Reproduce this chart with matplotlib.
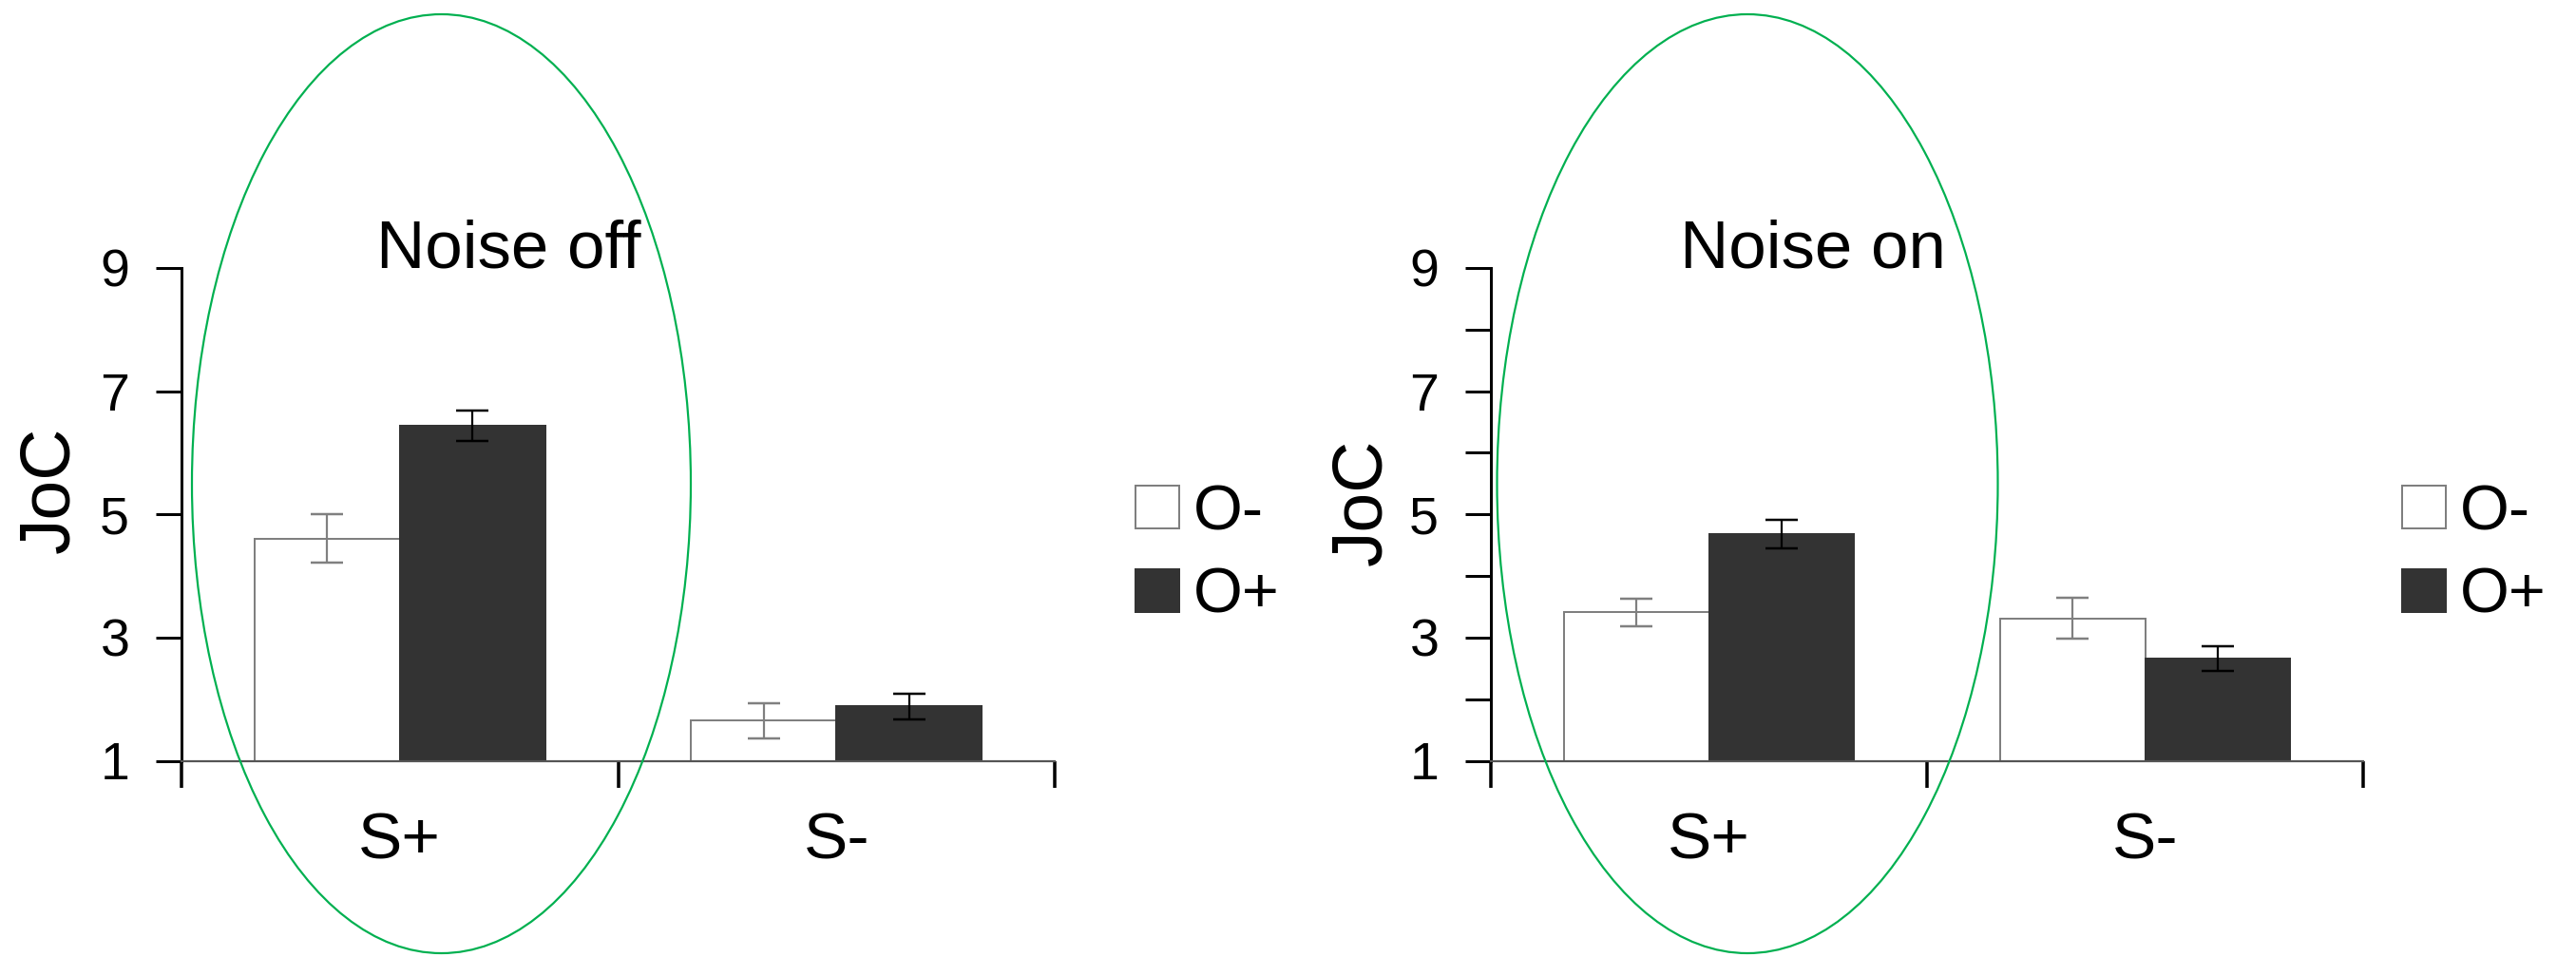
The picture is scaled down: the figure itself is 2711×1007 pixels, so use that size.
import matplotlib
matplotlib.use("Agg")
import matplotlib.pyplot as plt
from matplotlib.patches import Ellipse
import numpy as np

plt.rcParams['font.family'] = ['Liberation Sans', 'DejaVu Sans']

# ---- data ----
categories = ["S+", "S-"]
series_labels = ["O-", "O+"]
panel_titles = ["Noise off", "Noise on"]

off_o_minus = [4.61, 1.65]
off_o_minus_err = [0.40, 0.29]
off_o_plus = [6.44, 1.88]
off_o_plus_err = [0.25, 0.21]

on_o_minus = [3.41, 3.31]
on_o_minus_err = [0.22, 0.33]
on_o_plus = [4.68, 2.66]
on_o_plus_err = [0.23, 0.20]

y_ticks = [1, 3, 5, 7, 9]
y_minor_on = [2, 4, 6, 8]
y_label = "JoC"

# ---- figure ----
DPI = 100
fig = plt.figure(figsize=(27.11, 10.07), dpi=DPI)
W, H = 2711, 1007

def fx(px):
    return px / W

def fy(py):
    return 1 - py / H

ax_bottom = fy(800.5)
ax_height = (800.5 - 282) / H
ax_left = fig.add_axes([fx(191), ax_bottom, 919 / W, ax_height])
ax_right = fig.add_axes([fx(1569), ax_bottom, 918 / W, ax_height])

px = 72 / DPI  # points per pixel
bar_w = 0.3326
white_fc, white_ec = "white", "#7f7f7f"
dark_fc = "#333333"

panels = [
    (ax_left, off_o_minus, off_o_minus_err, off_o_plus, off_o_plus_err, False, 0.249, 1195),
    (ax_right, on_o_minus, on_o_minus_err, on_o_plus, on_o_plus_err, True, 0.239, 2528),
]

for i, (ax, om, ome, op, ope, minor, tx, leg_x) in enumerate(panels):
    x = np.arange(len(categories))
    b1 = ax.bar(x - bar_w / 2, om, width=bar_w, color=white_fc,
                edgecolor=white_ec, linewidth=2 * px, zorder=2)
    b2 = ax.bar(x + bar_w / 2, op, width=bar_w, color=dark_fc,
                edgecolor=dark_fc, linewidth=2 * px, zorder=2)
    ax.errorbar(x - bar_w / 2, om, yerr=ome, fmt="none", ecolor="#808080",
                elinewidth=2.2 * px, capsize=17 * px, capthick=2.5 * px, zorder=3)
    ax.errorbar(x + bar_w / 2, op, yerr=ope, fmt="none", ecolor="black",
                elinewidth=2.2 * px, capsize=17 * px, capthick=2.5 * px, zorder=3)

    ax.set_xlim(-0.5, 1.5)
    ax.set_ylim(1, 9)
    for s in ("top", "right"):
        ax.spines[s].set_visible(False)
    ax.spines["left"].set_linewidth(3 * px)
    ax.spines["left"].set_color("black")
    ax.spines["bottom"].set_linewidth(2.2 * px)
    ax.spines["bottom"].set_color("#555555")

    ax.set_yticks(y_ticks)
    ax.set_yticklabels([str(t) for t in y_ticks])
    if minor:
        ax.set_yticks(y_minor_on, minor=True)
    ax.tick_params(axis="y", which="both", direction="out", length=27 * px,
                   width=3 * px, color="black", pad=20, labelsize=40)

    ax.set_xticks([-0.5, 0.5, 1.5])
    ax.set_xticklabels([])
    ax.set_xticks(x, minor=True)
    ax.set_xticklabels(categories, minor=True)
    ax.tick_params(axis="x", which="major", direction="out", length=28 * px,
                   width=3.5 * px, color="black")
    ax.tick_params(axis="x", which="minor", length=0, pad=38, labelsize=50)

    ax.text(tx, 9, panel_titles[i], ha="center", va="baseline", fontsize=51,
            clip_on=False)

    ax.legend([b1, b2], series_labels, loc="center left",
              bbox_to_anchor=(fx(leg_x), fy(584)),
              bbox_transform=fig.transFigure, frameon=False,
              fontsize=48, handlelength=0.69, handleheight=0.66,
              handletextpad=0.22, labelspacing=0.38, borderpad=0,
              borderaxespad=0)

# y-axis titles
fig.text(fx(52.6), fy(515), y_label, rotation=90, ha="center", va="center",
         fontsize=54)
fig.text(fx(1434), fy(528), y_label, rotation=90, ha="center", va="center",
         fontsize=54)

# green highlight ellipses around the S+ groups
for cx, wpx in ((464.5, 525), (1839, 527)):
    e = Ellipse((fx(cx), fy(509)), wpx / W, 988 / H, transform=fig.transFigure,
                fill=False, edgecolor="#00b050", linewidth=2.2 * px, zorder=10)
    fig.patches.append(e)

fig.savefig("out.png", dpi=DPI, facecolor="white")
